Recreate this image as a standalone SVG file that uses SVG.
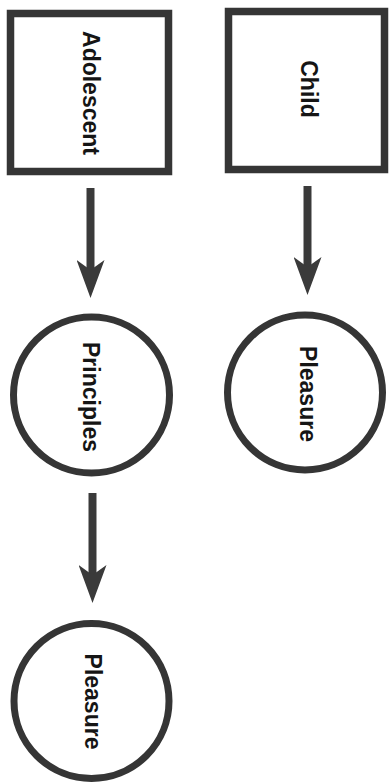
<svg xmlns="http://www.w3.org/2000/svg" width="390" height="784" viewBox="0 0 390 784">
<style>
.box{fill:#fff;stroke:#353535;stroke-width:7.5}
.circ{fill:#fff;stroke:#353535;stroke-width:7}
.lbl{font-family:"Liberation Sans",Arial,sans-serif;font-weight:bold;font-size:23px;fill:#151515;text-anchor:middle}
.conn{stroke:#3a3a3a;stroke-width:8;fill:none}
</style>
<defs>
<marker id="ah" viewBox="0 0 38 28" refX="10" refY="14" markerWidth="38" markerHeight="28" markerUnits="userSpaceOnUse" orient="auto">
<path d="M0,0 L38,14 L0,28 L10,14 Z" fill="#3a3a3a"/>
</marker>
</defs>
<rect width="390" height="784" fill="#fff"/>
<g id="connectors">
<line class="conn" x1="90.5" y1="188" x2="90.5" y2="270" marker-end="url(#ah)"/>
<line class="conn" x1="307.5" y1="186" x2="307.5" y2="267" marker-end="url(#ah)"/>
<line class="conn" x1="92.5" y1="493" x2="92.5" y2="575" marker-end="url(#ah)"/>
</g>
<g id="adolescent">
<rect class="box" x="10.5" y="13.5" width="158" height="158"/>
<text class="lbl" transform="translate(91,93) rotate(90)" y="8">Adolescent</text>
</g>
<g id="child">
<rect class="box" x="228.5" y="11.5" width="156" height="158"/>
<text class="lbl" transform="translate(309,89) rotate(90)" y="8">Child</text>
</g>
<g id="principles">
<circle class="circ" cx="91.5" cy="395" r="78"/>
<text class="lbl" transform="translate(90.5,397) rotate(90)" y="8">Principles</text>
</g>
<g id="pleasure-child">
<circle class="circ" cx="305" cy="392.5" r="77.5"/>
<text class="lbl" transform="translate(308,394) rotate(90)" y="8">Pleasure</text>
</g>
<g id="pleasure-adolescent">
<circle class="circ" cx="91.5" cy="701" r="77.5"/>
<text class="lbl" transform="translate(93,701.5) rotate(90)" y="8">Pleasure</text>
</g>
</svg>
